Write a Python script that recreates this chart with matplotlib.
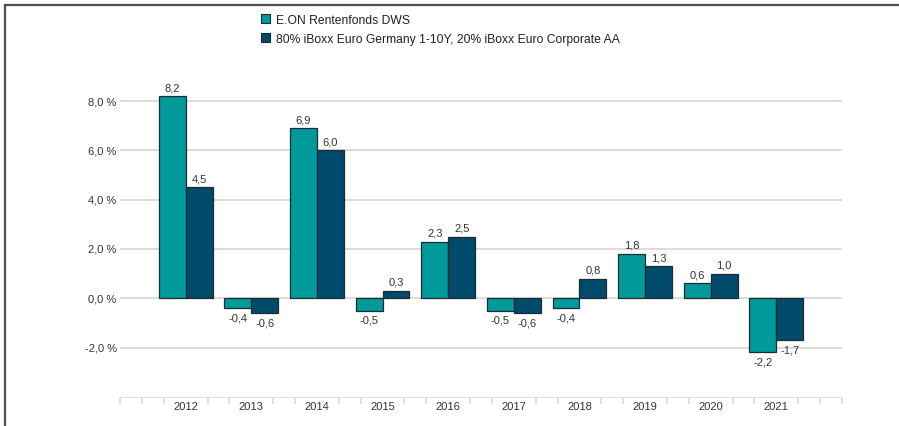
import numpy as np
import matplotlib
matplotlib.use('Agg')
import matplotlib.pyplot as plt
from matplotlib.lines import Line2D
from matplotlib.patches import Patch

years = ['2012', '2013', '2014', '2015', '2016', '2017', '2018', '2019', '2020', '2021']
fund = [8.2, -0.4, 6.9, -0.5, 2.3, -0.5, -0.4, 1.8, 0.6, -2.2]
bench = [4.5, -0.6, 6.0, 0.3, 2.5, -0.6, 0.8, 1.3, 1.0, -1.7]
names = ['E.ON Rentenfonds DWS',
         '80% iBoxx Euro Germany 1-10Y, 20% iBoxx Euro Corporate AA']
yticks = [-2, 0, 2, 4, 6, 8]

teal = '#00999c'
navy = '#004a6b'
edge = '#1d2c33'
grid = '#dcd9d2'
txt = '#333333'

plt.rcParams['font.family'] = ['Liberation Sans', 'DejaVu Sans']

fig = plt.figure(figsize=(8.99, 4.27), dpi=100)
ax = fig.add_axes([120/899, 1 - 399/427, (842-120)/899, (399-62.8)/427])

x = np.arange(len(years))
w = 0.41
b1 = ax.bar(x - w/2, fund, w, color=teal, edgecolor=edge, linewidth=0.9, zorder=3)
b2 = ax.bar(x + w/2, bench, w, color=navy, edgecolor=edge, linewidth=0.9, zorder=3)

for bars, vals in [(b1, fund), (b2, bench)]:
    for r, v in zip(bars, vals):
        off = 3 if v >= 0 else -3
        ax.annotate(f'{v:.1f}'.replace('.', ','),
                    (r.get_x() + r.get_width()/2, v),
                    xytext=(0, off), textcoords='offset points',
                    ha='center', va='bottom' if v >= 0 else 'top',
                    fontsize=8, color=txt)

ax.set_xlim(-0.99, 10.0)
ax.set_ylim(-4.05, 9.6)

for yv in yticks:
    ax.axhline(yv, color=grid, lw=1.3, zorder=1)
    ax.text(-1.05, yv, f'{yv:.1f} %'.replace('.', ','), ha='right', va='center',
            fontsize=8, color=txt)
ax.axhline(-4.05, color=grid, lw=2, zorder=1)

# minor ticks along bottom axis
tks = [-1 + k/3 for k in range(34)]
tks = [t for t in tks if min(abs(t - i) for i in range(10)) > 0.05]
ax.set_xticks(tks, minor=True)
ax.tick_params(axis='x', which='minor', length=4, color=grid, width=1.2)
ax.set_xticks(x)
ax.set_xticklabels(years, fontsize=8, color=txt)
ax.tick_params(axis='x', which='major', length=0, pad=2)
ax.set_yticks([])
for s in ax.spines.values():
    s.set_visible(False)

handles = [Patch(facecolor=teal, edgecolor=edge, linewidth=0.8),
           Patch(facecolor=navy, edgecolor=edge, linewidth=0.8)]
leg = fig.legend(handles, names, loc='upper left', bbox_to_anchor=(256/899, 1 - 10/427),
                 frameon=False, fontsize=8.7, handlelength=0.75, handleheight=0.75,
                 handletextpad=0.5, labelspacing=0.6, borderaxespad=0)
for t in leg.get_texts():
    t.set_color('#222222')

# frame around the picture
fig.add_artist(Line2D([5/899, 1], [1 - 6/427, 1 - 6/427], color='#505050', lw=1.6))
fig.add_artist(Line2D([5/899, 5/899], [0, 1 - 6/427], color='#505050', lw=1.6))

fig.savefig('out.png', dpi=100)
